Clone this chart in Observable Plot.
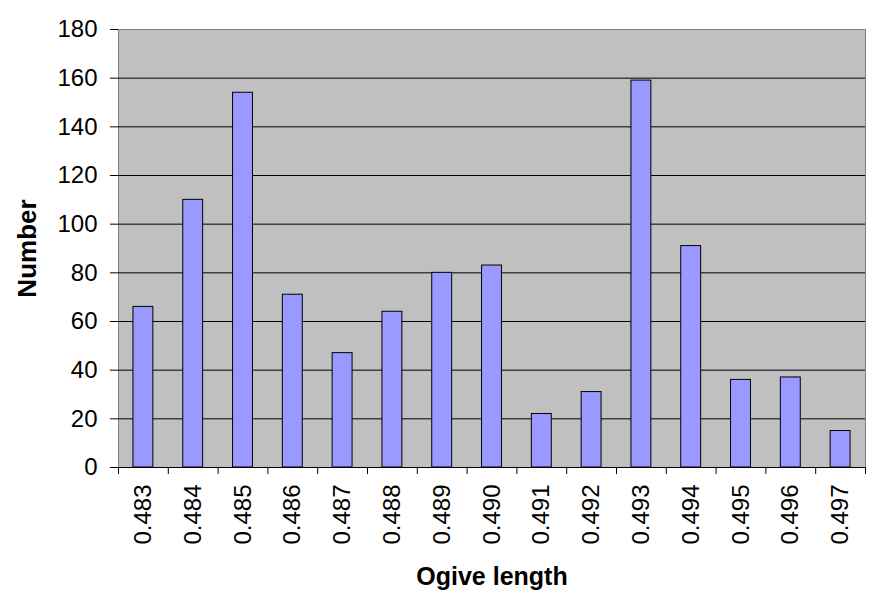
<!DOCTYPE html>
<html>
<head>
<meta charset="utf-8">
<script src="https://cdn.jsdelivr.net/npm/d3@7"></script>
<script src="https://cdn.jsdelivr.net/npm/@observablehq/plot@0.6"></script>
<style>
  html, body { margin: 0; padding: 0; background: #fff; }
  #chart { width: 887px; height: 604px; }
</style>
</head>
<body>
<div id="chart"></div>
<script>
const categories = ["0.483","0.484","0.485","0.486","0.487","0.488","0.489","0.490","0.491","0.492","0.493","0.494","0.495","0.496","0.497"];
const counts = [66, 110, 154, 71, 47, 64, 80, 83, 22, 31, 159, 91, 36, 37, 15];
const yTicks = [0, 20, 40, 60, 80, 100, 120, 140, 160, 180];
const gridTicks = [20, 40, 60, 80, 100, 120, 140, 160];

const data = categories.map((c, i) => ({cat: c, n: counts[i]}));

const W = 887, H = 604, mL = 118, mR = 22, mT = 29, mB = 137;
const step = (W - mL - mR) / categories.length;

const chart = Plot.plot({
  width: W,
  height: H,
  marginLeft: mL,
  marginRight: mR,
  marginTop: mT,
  marginBottom: mB,
  style: {fontFamily: "'Liberation Sans', Arial, sans-serif", background: "#fff", color: "#000", overflow: "visible"},
  x: {domain: categories, paddingInner: 0.6, paddingOuter: 0.3, round: false, label: null},
  y: {domain: [0, 180], label: null},
  marks: [
    Plot.frame({fill: "#C0C0C0", stroke: "#808080"}),
    Plot.ruleY(gridTicks, {stroke: "#000", strokeWidth: 1}),
    Plot.barY(data, {x: "cat", y: "n", fill: "#9999FF", stroke: "#000", strokeWidth: 1}),
    Plot.ruleX([0], {stroke: "#000", frameAnchor: "left"}),
    Plot.ruleY([0], {stroke: "#000"}),
    Plot.axisY({ticks: yTicks, tickSize: 8, tickPadding: 13, fontSize: 24, label: null, tickFormat: d => String(d)}),
    Plot.axisX({tickSize: 0, tickPadding: 17, tickRotate: -90, fontSize: 24, label: null}),
    Plot.ruleX(categories, {x: d => d, dx: -step / 2, y1: 0, y2: 0, insetBottom: -7, stroke: "#000"}),
    Plot.ruleX([categories[categories.length - 1]], {x: d => d, dx: step / 2, y1: 0, y2: 0, insetBottom: -7, stroke: "#000"}),
    Plot.text(["Number"], {frameAnchor: "left", textAnchor: "middle", dx: -91, rotate: -90, fontSize: 26, fontWeight: "bold"}),
    Plot.text(["Ogive length"], {frameAnchor: "bottom", dy: 117, fontSize: 25, fontWeight: "bold"})
  ]
});
document.getElementById("chart").appendChild(chart);
</script>
</body>
</html>
